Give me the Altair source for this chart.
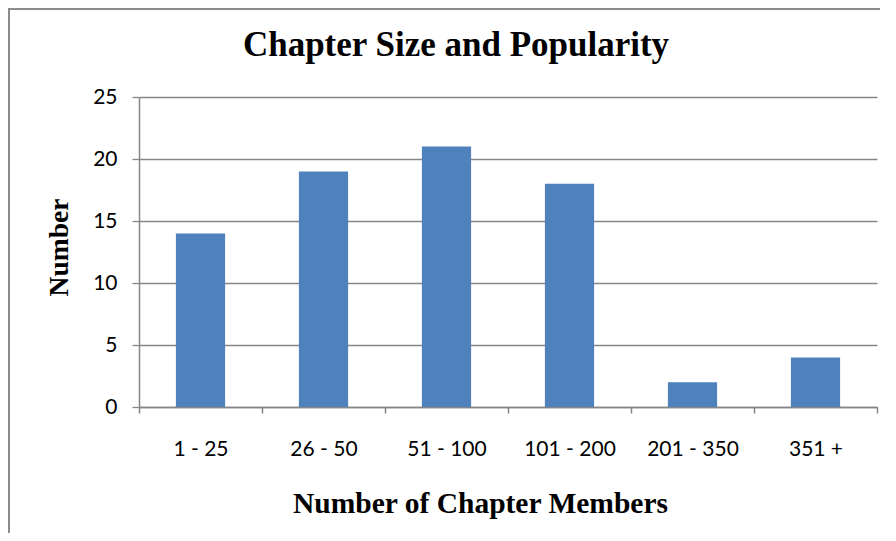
import altair as alt
import pandas as pd

categories = ["1 - 25", "26 - 50", "51 - 100", "101 - 200", "201 - 350", "351 +"]
counts = [14, 19, 21, 18, 2, 4]
y_ticks = [0, 5, 10, 15, 20, 25]
chart_title = "Chapter Size and Popularity"
x_title = "Number of Chapter Members"
y_title = "Number"

df = pd.DataFrame({"members": categories, "number": counts})

W, H = 738, 310
GRAY = "#868686"
SERIF = "Liberation Serif"
SANS = "Lato"

bars = alt.Chart(df).mark_bar(color="#4F81BD", width=alt.RelativeBandSize(0.4)).encode(
    x=alt.X(
        "members:N",
        sort=categories,
        scale=alt.Scale(paddingInner=0, paddingOuter=0),
        axis=alt.Axis(
            title=x_title,
            grid=False,
            tickBand="extent",
            labelAngle=0,
            domainColor=GRAY,
            domainWidth=1.5,
            tickColor=GRAY,
            tickWidth=1.5,
            tickSize=6,
            labelFont=SANS,
            labelFontSize=21,
            labelColor="#000000",
            labelBaseline="alphabetic",
            labelPadding=42,
            titleFont=SERIF,
            titleFontSize=29.5,
            titleFontWeight="bold",
            titleColor="#000000",
            titleBaseline="alphabetic",
            titleAlign="center",
            titleX=341,
            titleY=105,
        ),
    ),
    y=alt.Y(
        "number:Q",
        scale=alt.Scale(domain=[0, 25], nice=False),
        axis=alt.Axis(
            title=y_title,
            values=y_ticks,
            grid=True,
            gridColor=GRAY,
            gridWidth=1.3,
            domainColor=GRAY,
            domainWidth=1.5,
            tickColor=GRAY,
            tickWidth=1.3,
            tickSize=7,
            labelFont=SANS,
            labelFontSize=21,
            labelColor="#000000",
            labelPadding=15,
            titleFont=SERIF,
            titleFontSize=27.5,
            titleFontWeight="bold",
            titleColor="#000000",
            titleAngle=270,
            titleBaseline="alphabetic",
            titleAlign="center",
            titleX=-72,
            titleY=150,
        ),
    ),
)

one = pd.DataFrame({"a": [0]})
left_border = alt.Chart(one).mark_rule(color="#8c8c8c", strokeWidth=2).encode(
    x=alt.value(-130), y=alt.value(-89), y2=alt.value(440)
)
top_border = alt.Chart(one).mark_rule(color="#8c8c8c", strokeWidth=2).encode(
    x=alt.value(-131), x2=alt.value(760), y=alt.value(-88)
)

title_text = alt.Chart(pd.DataFrame({"t": [chart_title]})).mark_text(
    font=SERIF, fontSize=35, fontWeight="bold", color="#000000",
    align="center", baseline="alphabetic"
).encode(text="t:N", x=alt.value(317), y=alt.value(-41))

chart = alt.layer(left_border, top_border, bars, title_text).properties(
    width=W,
    height=H,
    autosize=alt.AutoSizeParams(type="none"),
    padding={"left": 131, "top": 89, "right": 3, "bottom": 126},
    background="#ffffff",
).configure_view(stroke=None)

chart.save("out.html", embed_options={"renderer": "svg", "actions": False})
